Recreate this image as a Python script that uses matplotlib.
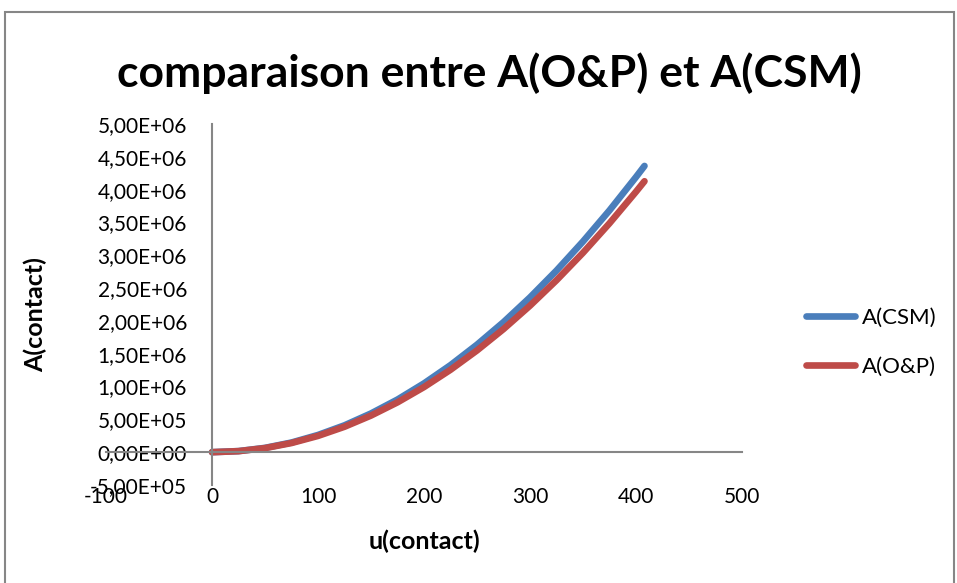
import matplotlib
matplotlib.use("Agg")
import matplotlib.pyplot as plt
import matplotlib.ticker as ticker
from matplotlib.patches import Rectangle

# u(contact) values and the two contact areas
u_contact = [0, 25, 50, 75, 100, 125, 150, 175, 200, 225, 250, 275, 300,
             325, 350, 375, 400, 408]
a_csm = [0, 16400, 65500, 147000, 262000, 409000, 590000, 802000, 1048000,
         1326000, 1638000, 1981000, 2358000, 2767000, 3210000, 3684000,
         4192000, 4361000]
a_op = [0, 15500, 62000, 139500, 248000, 387500, 558000, 759500, 992000,
        1255500, 1550000, 1875500, 2232000, 2619500, 3038000, 3487500,
        3968000, 4128000]

series_names = ["A(CSM)", "A(O&P)"]
title = "comparaison entre A(O&P) et A(CSM)"

plt.rcParams['font.family'] = ['Lato', 'DejaVu Sans']
plt.rcParams['axes.unicode_minus'] = False

W, H = 957, 583
fig = plt.figure(figsize=(W / 100, H / 100), dpi=100)

# outer chart border
fig.patches.append(Rectangle((5 / W, -0.01), 949 / W, 1 - 12 / H + 0.01,
                             transform=fig.transFigure, fill=False,
                             edgecolor='#868686', linewidth=1.5))

ax = fig.add_axes([106 / W, 1 - 485 / H, (742 - 106) / W, (485 - 124) / H])

ax.plot(u_contact, a_csm, color='#4A7EBB', linewidth=4.8,
        solid_capstyle='round', label=series_names[0])
ax.plot(u_contact, a_op, color='#BE4B48', linewidth=4.8,
        solid_capstyle='round', label=series_names[1])

ax.set_xlim(-100, 500)
ax.set_ylim(-5e5, 5e6)
ax.xaxis.set_major_locator(ticker.MultipleLocator(100))
ax.yaxis.set_major_locator(ticker.MultipleLocator(5e5))
ax.yaxis.set_major_formatter(
    ticker.FuncFormatter(lambda v, p: f"{v:.2E}".replace('.', ',')))

# axes cross at zero like in excel
ax.spines['left'].set_position(('data', 0))
ax.spines['bottom'].set_position(('data', 0))
ax.spines['top'].set_visible(False)
ax.spines['right'].set_visible(False)
for s in ['left', 'bottom']:
    ax.spines[s].set_color('#868686')
    ax.spines[s].set_linewidth(1.5)
ax.tick_params(axis='both', length=0, labelsize=15, colors='black')
ax.tick_params(axis='y', pad=18)
ax.tick_params(axis='x', pad=25)

fig.text(489 / W, 1 - 73 / H, title, fontsize=32, fontweight='bold',
         ha='center', va='center')
fig.text(424 / W, 1 - 541 / H, "u(contact)", fontsize=18, fontweight='bold',
         ha='center', va='center')
fig.text(35 / W, 1 - 315 / H, "A(contact)", fontsize=18, fontweight='bold',
         ha='center', va='center', rotation=90)

ax.legend(loc='center left', bbox_to_anchor=(786 / W, 1 - 342 / H),
          bbox_transform=fig.transFigure, frameon=False, fontsize=16,
          handlelength=2.2, handletextpad=0.3, labelspacing=1.3)

fig.savefig("out.png", dpi=100)
